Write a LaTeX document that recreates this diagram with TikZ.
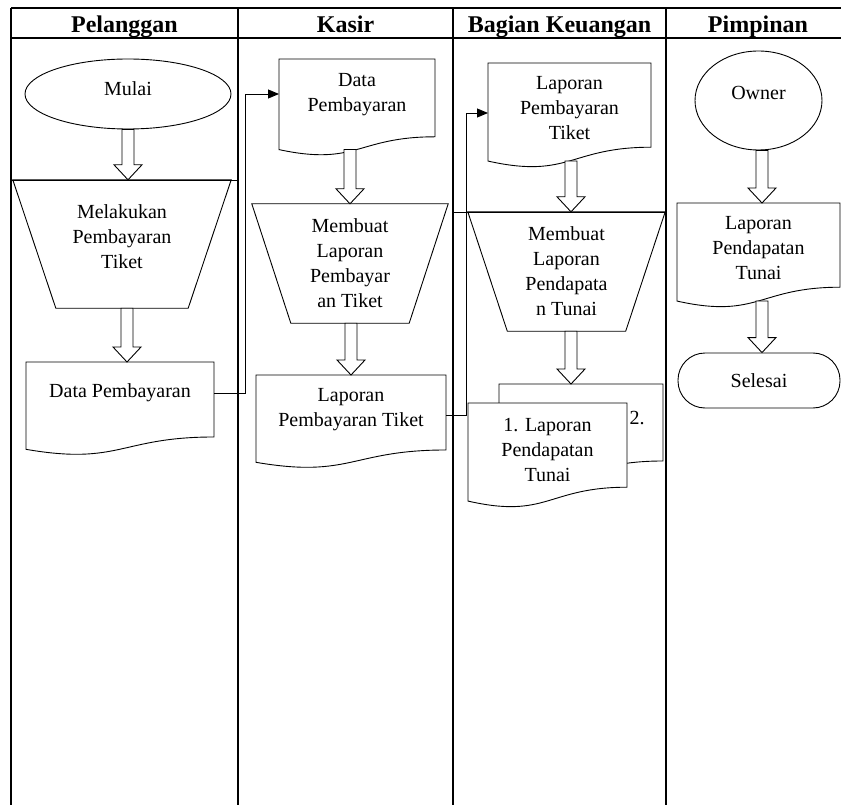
\documentclass[tikz,border=0pt]{standalone}
\usepackage{fontspec}
\setmainfont{Liberation Serif}
\usepackage{tikz}
\usetikzlibrary{shapes.geometric, positioning, calc, arrows.meta}

\tikzset{
  garis/.style={draw=black, line width=0.9pt},
  tabel/.style={draw=black, line width=1.3pt},
  judul/.style={font=\fontsize{24pt}{28pt}\selectfont\bfseries, anchor=base},
  teks/.style={font=\fontsize{20pt}{25pt}\selectfont, align=center, inner sep=0pt},
  oval/.style={ellipse, garis, teks},
  trap/.style={rectangle, teks},
  bentuk/.style={garis, fill=white},
  panahblok/.style={garis, fill=white, line join=miter},
  konektor/.style={garis, -{Triangle[length=11pt,width=9pt]}}
}

% dokumen: nama, pojok kiri atas, lebar, tinggi
\newcommand{\dokumen}[4]{%
  \coordinate (#1-nw) at (#2);
  \draw[bentuk] (#1-nw) -- ++(#3,0) -- ++(0,0.802*#4)
    .. controls ($(#1-nw)+(#3/2,0.802*#4)$) and ($(#1-nw)+(#3/2,1.107*#4)$)
    .. ($(#1-nw)+(0,0.934*#4)$) -- cycle;
  \coordinate (#1-n) at ($(#1-nw)+(#3/2,0)$);
  \coordinate (#1-b) at ($(#1-nw)+(#3/2,0.933*#4)$);}

% trapesium terbalik di sekeliling node: nama, jarak masuk sisi bawah
\newcommand{\trapesium}[2]{%
  \draw[garis] (#1.north west) -- (#1.north east) -- ($(#1.south east)+(-#2,0)$)
    -- ($(#1.south west)+(#2,0)$) -- cycle;}

% panah blok: geser x, dari, ke
\newcommand{\panah}[3][0]{%
  \draw[panahblok] let \p1=($(#2)+(#1,0)$), \p2=(#3) in
    (\x1-6pt,\y1) -- (\x1-6pt,\y2+15pt) -- (\x1-14pt,\y2+15pt) -- (\x1,\y2)
    -- (\x1+14pt,\y2+15pt) -- (\x1+6pt,\y2+15pt) -- (\x1+6pt,\y1) -- cycle;}

\begin{document}
\begin{tikzpicture}[x=1pt, y=-1pt]
    \useasboundingbox (0,0) rectangle (841,805);
    \fill[white] (0,0) rectangle (841,805);

    % Tabel
    \draw[tabel] (11,8) -- (841,8);
    \draw[tabel] (11,38) -- (841,38);
    \foreach \x in {11,238,453,666}
        \draw[tabel] (\x,8) -- (\x,805);
    \draw[garis] (11,180) -- (238,180);
    \draw[garis] (453,212) -- (666,212);

    \node[judul] (hpel) at (124.5,33) {Pelanggan};
    \node[judul] (hkas) at (345.5,33) {Kasir};
    \node[judul] (hkeu) at (559.5,33) {Bagian Keuangan};
    \node[judul] (hpim) at (758,33) {Pimpinan};

    % Pelanggan
    \node[oval, minimum width=206pt, minimum height=70pt, text height=14pt, text depth=10pt]
        (mulai) at (128,94) {Mulai};
    \node[trap, minimum width=218pt, minimum height=128pt] (tpel) at (122,244)
        {Melakukan\\Pembayaran\\Tiket\\[-11pt]};
    \trapesium{tpel}{43}
    \dokumen{dpel}{26,362}{188}{93.5}
    \node[teks, below=21pt of dpel-n] (dpel) {Data Pembayaran};

    % Kasir
    \dokumen{dbayar}{279,59}{156}{97}
    \node[teks, below=14pt of dbayar-n] (dbayar) {Data\\Pembayaran};
    \node[trap, minimum width=196pt, minimum height=119pt] (tkas) at (350,263.5)
        {Membuat\\Laporan\\Pembayar\\an Tiket};
    \trapesium{tkas}{39}
    \dokumen{dlapkas}{256,375}{190}{93.5}
    \node[teks, below=13pt of dlapkas-n] (dlapkas) {Laporan\\Pembayaran Tiket};

    % Bagian Keuangan
    \dokumen{dlapkeu}{488,63}{163}{105}
    \node[teks, below=13pt of dlapkeu-n] (dlapkeu) {Laporan\\Pembayaran\\Tiket};
    \node[trap, minimum width=197pt, minimum height=119pt] (tkeu) at (566.5,271.5)
        {Membuat\\Laporan\\Pendapata\\n Tunai};
    \trapesium{tkeu}{39.5}
    \dokumen{dtunai2}{499,384}{164}{96}
    \node[teks] (tunai2) at (637,418) {2.};
    \dokumen{dtunai1}{468,403}{159}{105}
    \node[teks, below=15pt of dtunai1-n] (dtunai1) {1. Laporan\\Pendapatan\\Tunai};

    % Pimpinan
    \node[oval, minimum width=127pt, minimum height=99pt, text height=14pt, text depth=16pt]
        (owner) at (758.5,100.5) {Owner};
    \dokumen{dpim}{677,203}{163}{105}
    \node[teks, below=13pt of dpim-n] (dpim) {Laporan\\Pendapatan\\Tunai};
    \node[garis, teks, rounded corners=27pt, minimum width=162pt, minimum height=55pt]
        (selesai) at (759,380.5) {Selesai};

    % Panah
    \panah{mulai.south}{tpel.north}
    \panah[5]{tpel.south}{dpel-n}
    \panah[-7]{dbayar-b}{tkas.north}
    \panah[1]{tkas.south}{dlapkas-n}
    \panah[1.5]{dlapkeu-b}{tkeu.north}
    \panah[4.5]{tkeu.south}{dtunai2-n}
    \panah[3.5]{owner.south}{dpim-n}
    \panah[3.5]{dpim-b}{selesai.north}

    \draw[konektor] ($(dpel-nw)+(188,31)$) -- ++(31,0) |- ($(dbayar-nw)+(0,35)$);
    \draw[konektor] ($(dlapkas-nw)+(190,40)$) -- ++(20,0) |- ($(dlapkeu-nw)+(0,50)$);
\end{tikzpicture}
\end{document}
